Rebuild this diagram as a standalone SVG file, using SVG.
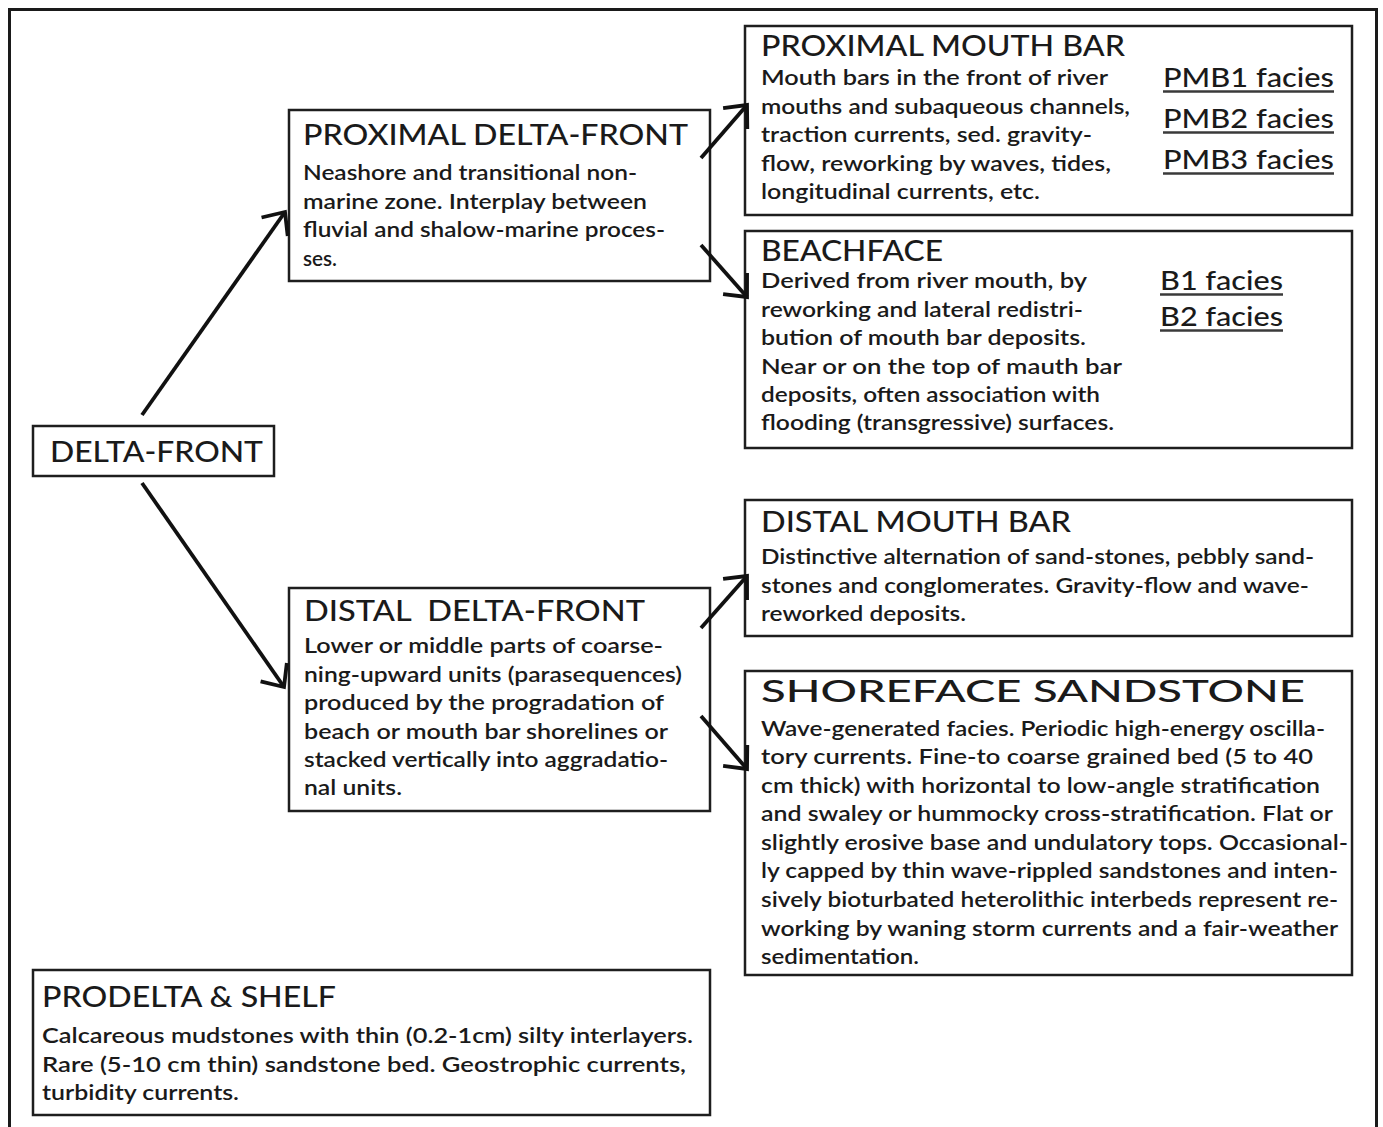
<svg xmlns="http://www.w3.org/2000/svg" width="1383" height="1127" viewBox="0 0 1383 1127">
  <defs>
    <style>
      .box { fill: #ffffff; stroke: #1e1e1e; stroke-width: 2.5; }
      .frame { fill: #ffffff; stroke: #1a1a1a; stroke-width: 3; }
      text { font-family: "Lato", "Open Sans", "Liberation Sans", sans-serif; fill: #1a1a1a; font-weight: 600; }
      .title { font-size: 28px; font-weight: 500; }
      .big { font-size: 30px; font-weight: 500; }
      .body { font-size: 21px; }
      .fac { font-size: 27px; font-weight: 500; }
      .ul { stroke: #3a3a3a; stroke-width: 2.4; }
      .arrow { stroke: #111111; stroke-width: 3.8; fill: none; marker-end: url(#head); }
    </style>
    <marker id="head" viewBox="-22 -20 26 40" refX="0" refY="0" markerWidth="26" markerHeight="40" markerUnits="userSpaceOnUse" orient="auto">
      <path d="M-18,-16 L0,0 L-18,16" fill="none" stroke="#111111" stroke-width="3.8" stroke-linejoin="miter"/>
    </marker>
  </defs>

  <rect width="1383" height="1127" fill="#ffffff"/>
  <rect class="frame" x="9.5" y="9.5" width="1367" height="1140"/>

  <!-- delta-front root -->
  <g id="delta-front">
    <rect class="box" x="33" y="426" width="241" height="50"/>
    <text class="title" x="50" y="462" textLength="213" lengthAdjust="spacingAndGlyphs">DELTA-FRONT</text>
  </g>

  <!-- proximal delta-front -->
  <g id="proximal-delta-front">
    <rect class="box" x="289" y="110" width="421" height="171"/>
    <text class="title" x="303" y="145" textLength="385" lengthAdjust="spacingAndGlyphs">PROXIMAL DELTA-FRONT</text>
    <text class="body" x="303" y="180" textLength="334" lengthAdjust="spacingAndGlyphs">Neashore and transitional non-</text>
    <text class="body" x="303" y="208.5" textLength="344" lengthAdjust="spacingAndGlyphs">marine zone. Interplay between</text>
    <text class="body" x="303" y="237" textLength="362" lengthAdjust="spacingAndGlyphs">fluvial and shalow-marine proces-</text>
    <text class="body" x="303" y="265.5" textLength="34" lengthAdjust="spacingAndGlyphs">ses.</text>
  </g>

  <!-- proximal mouth bar -->
  <g id="proximal-mouth-bar">
    <rect class="box" x="745" y="26" width="607" height="189"/>
    <text class="title" x="761" y="56" textLength="364" lengthAdjust="spacingAndGlyphs">PROXIMAL MOUTH BAR</text>
    <text class="body" x="761" y="85" textLength="347" lengthAdjust="spacingAndGlyphs">Mouth bars in the front of river</text>
    <text class="body" x="761" y="114" textLength="369" lengthAdjust="spacingAndGlyphs">mouths and subaqueous channels,</text>
    <text class="body" x="761" y="142" textLength="331" lengthAdjust="spacingAndGlyphs">traction currents, sed. gravity-</text>
    <text class="body" x="761" y="171" textLength="350" lengthAdjust="spacingAndGlyphs">flow, reworking by waves, tides,</text>
    <text class="body" x="761" y="199" textLength="279" lengthAdjust="spacingAndGlyphs">longitudinal currents, etc.</text>
    <text class="fac" x="1163" y="87" textLength="171" lengthAdjust="spacingAndGlyphs">PMB1 facies</text>
    <line class="ul" x1="1163" y1="91.5" x2="1334" y2="91.5"/>
    <text class="fac" x="1163" y="128" textLength="171" lengthAdjust="spacingAndGlyphs">PMB2 facies</text>
    <line class="ul" x1="1163" y1="132.5" x2="1334" y2="132.5"/>
    <text class="fac" x="1163" y="169" textLength="171" lengthAdjust="spacingAndGlyphs">PMB3 facies</text>
    <line class="ul" x1="1163" y1="173.5" x2="1334" y2="173.5"/>
  </g>

  <!-- beachface -->
  <g id="beachface">
    <rect class="box" x="745" y="231" width="607" height="217"/>
    <text class="title" x="761" y="261" textLength="182" lengthAdjust="spacingAndGlyphs">BEACHFACE</text>
    <text class="body" x="761" y="288" textLength="326" lengthAdjust="spacingAndGlyphs">Derived from river mouth, by</text>
    <text class="body" x="761" y="317" textLength="322" lengthAdjust="spacingAndGlyphs">reworking and lateral redistri-</text>
    <text class="body" x="761" y="345" textLength="325" lengthAdjust="spacingAndGlyphs">bution of mouth bar deposits.</text>
    <text class="body" x="761" y="374" textLength="361" lengthAdjust="spacingAndGlyphs">Near or on the top of mauth bar</text>
    <text class="body" x="761" y="402" textLength="339" lengthAdjust="spacingAndGlyphs">deposits, often association with</text>
    <text class="body" x="761" y="430" textLength="353" lengthAdjust="spacingAndGlyphs">flooding (transgressive) surfaces.</text>
    <text class="fac" x="1160" y="290" textLength="123" lengthAdjust="spacingAndGlyphs">B1 facies</text>
    <line class="ul" x1="1160" y1="294.5" x2="1283" y2="294.5"/>
    <text class="fac" x="1160" y="326" textLength="123" lengthAdjust="spacingAndGlyphs">B2 facies</text>
    <line class="ul" x1="1160" y1="330.5" x2="1283" y2="330.5"/>
  </g>

  <!-- distal delta-front -->
  <g id="distal-delta-front">
    <rect class="box" x="289" y="588" width="421" height="223"/>
    <text class="title" x="304" y="621" textLength="341" lengthAdjust="spacingAndGlyphs" xml:space="preserve">DISTAL  DELTA-FRONT</text>
    <text class="body" x="304" y="653" textLength="359" lengthAdjust="spacingAndGlyphs">Lower or middle parts of coarse-</text>
    <text class="body" x="304" y="682" textLength="378" lengthAdjust="spacingAndGlyphs">ning-upward units (parasequences)</text>
    <text class="body" x="304" y="710" textLength="360" lengthAdjust="spacingAndGlyphs">produced by the progradation of</text>
    <text class="body" x="304" y="739" textLength="364" lengthAdjust="spacingAndGlyphs">beach or mouth bar shorelines or</text>
    <text class="body" x="304" y="767" textLength="364" lengthAdjust="spacingAndGlyphs">stacked vertically into aggradatio-</text>
    <text class="body" x="304" y="795" textLength="98" lengthAdjust="spacingAndGlyphs">nal units.</text>
  </g>

  <!-- distal mouth bar -->
  <g id="distal-mouth-bar">
    <rect class="box" x="745" y="500" width="607" height="136"/>
    <text class="title" x="761" y="532" textLength="310" lengthAdjust="spacingAndGlyphs">DISTAL MOUTH BAR</text>
    <text class="body" x="761" y="564" textLength="553" lengthAdjust="spacingAndGlyphs">Distinctive alternation of sand-stones, pebbly sand-</text>
    <text class="body" x="761" y="593" textLength="548" lengthAdjust="spacingAndGlyphs">stones and conglomerates. Gravity-flow and wave-</text>
    <text class="body" x="761" y="621" textLength="205" lengthAdjust="spacingAndGlyphs">reworked deposits.</text>
  </g>

  <!-- shoreface sandstone -->
  <g id="shoreface-sandstone">
    <rect class="box" x="745" y="671" width="607" height="304"/>
    <text class="big" x="761" y="702" textLength="544" lengthAdjust="spacingAndGlyphs">SHOREFACE SANDSTONE</text>
    <text class="body" x="761" y="736" textLength="564" lengthAdjust="spacingAndGlyphs">Wave-generated facies. Periodic high-energy oscilla-</text>
    <text class="body" x="761" y="764" textLength="552" lengthAdjust="spacingAndGlyphs">tory currents. Fine-to coarse grained bed (5 to 40</text>
    <text class="body" x="761" y="793" textLength="559" lengthAdjust="spacingAndGlyphs">cm thick) with horizontal to low-angle stratification</text>
    <text class="body" x="761" y="821" textLength="572" lengthAdjust="spacingAndGlyphs">and swaley or hummocky cross-stratification. Flat or</text>
    <text class="body" x="761" y="850" textLength="587" lengthAdjust="spacingAndGlyphs">slightly erosive base and undulatory tops. Occasional-</text>
    <text class="body" x="761" y="878" textLength="577" lengthAdjust="spacingAndGlyphs">ly capped by thin wave-rippled sandstones and inten-</text>
    <text class="body" x="761" y="907" textLength="577" lengthAdjust="spacingAndGlyphs">sively bioturbated heterolithic interbeds represent re-</text>
    <text class="body" x="761" y="936" textLength="577" lengthAdjust="spacingAndGlyphs">working by waning storm currents and a fair-weather</text>
    <text class="body" x="761" y="964" textLength="158" lengthAdjust="spacingAndGlyphs">sedimentation.</text>
  </g>

  <!-- prodelta and shelf -->
  <g id="prodelta-shelf">
    <rect class="box" x="33" y="970" width="677" height="145"/>
    <text class="title" x="42" y="1007" textLength="294" lengthAdjust="spacingAndGlyphs">PRODELTA &amp; SHELF</text>
    <text class="body" x="42" y="1043" textLength="651" lengthAdjust="spacingAndGlyphs">Calcareous mudstones with thin (0.2-1cm) silty interlayers.</text>
    <text class="body" x="42" y="1072" textLength="644" lengthAdjust="spacingAndGlyphs">Rare (5-10 cm thin) sandstone bed. Geostrophic currents,</text>
    <text class="body" x="42" y="1100" textLength="197" lengthAdjust="spacingAndGlyphs">turbidity currents.</text>
  </g>

  <!-- connectors -->
  <g id="connectors">
    <line class="arrow" x1="142" y1="415" x2="285" y2="212"/>
    <line class="arrow" x1="142" y1="483" x2="284" y2="687"/>
    <line class="arrow" x1="701" y1="158" x2="747" y2="105"/>
    <line class="arrow" x1="701" y1="245" x2="747" y2="297"/>
    <line class="arrow" x1="701" y1="628" x2="747" y2="576"/>
    <line class="arrow" x1="701" y1="716" x2="747" y2="769"/>
  </g>
</svg>
